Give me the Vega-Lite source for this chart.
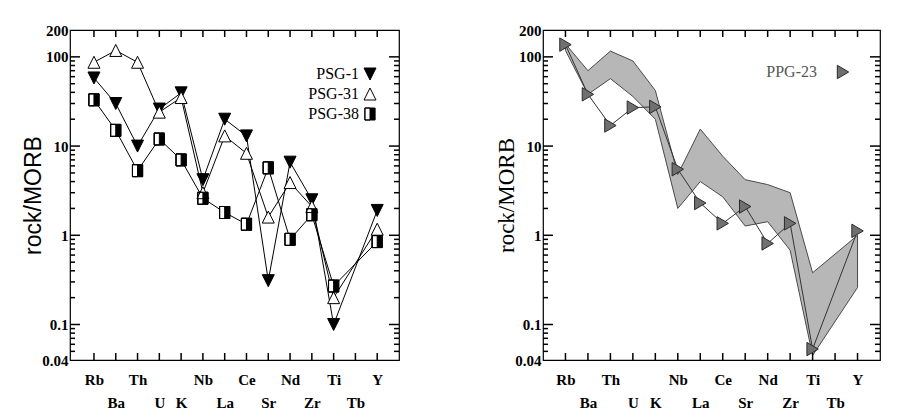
{
  "$schema": "https://vega.github.io/schema/vega-lite/v6.json",
  "background": "white",
  "padding": {"left": 22, "top": 22, "right": 5, "bottom": 5},
  "spacing": 95,
  "datasets": {
    "psg": [
      {"sample": "PSG-1", "el": "Rb", "idx": 0, "v": 58},
      {"sample": "PSG-1", "el": "Ba", "idx": 1, "v": 30},
      {"sample": "PSG-1", "el": "Th", "idx": 2, "v": 10},
      {"sample": "PSG-1", "el": "U", "idx": 3, "v": 26},
      {"sample": "PSG-1", "el": "K", "idx": 4, "v": 39.5},
      {"sample": "PSG-1", "el": "Nb", "idx": 5, "v": 4.2},
      {"sample": "PSG-1", "el": "La", "idx": 6, "v": 20},
      {"sample": "PSG-1", "el": "Ce", "idx": 7, "v": 13},
      {"sample": "PSG-1", "el": "Sr", "idx": 8, "v": 0.31},
      {"sample": "PSG-1", "el": "Nd", "idx": 9, "v": 6.6},
      {"sample": "PSG-1", "el": "Zr", "idx": 10, "v": 2.5},
      {"sample": "PSG-1", "el": "Ti", "idx": 11, "v": 0.1},
      {"sample": "PSG-1", "el": "Y", "idx": 13, "v": 1.9},
      {"sample": "PSG-31", "el": "Rb", "idx": 0, "v": 87},
      {"sample": "PSG-31", "el": "Ba", "idx": 1, "v": 118},
      {"sample": "PSG-31", "el": "Th", "idx": 2, "v": 87},
      {"sample": "PSG-31", "el": "U", "idx": 3, "v": 24},
      {"sample": "PSG-31", "el": "K", "idx": 4, "v": 35},
      {"sample": "PSG-31", "el": "Nb", "idx": 5, "v": 3.0},
      {"sample": "PSG-31", "el": "La", "idx": 6, "v": 13},
      {"sample": "PSG-31", "el": "Ce", "idx": 7, "v": 8.3},
      {"sample": "PSG-31", "el": "Sr", "idx": 8, "v": 1.6},
      {"sample": "PSG-31", "el": "Nd", "idx": 9, "v": 3.9},
      {"sample": "PSG-31", "el": "Zr", "idx": 10, "v": 2.1},
      {"sample": "PSG-31", "el": "Ti", "idx": 11, "v": 0.2},
      {"sample": "PSG-31", "el": "Y", "idx": 13, "v": 1.17},
      {"sample": "PSG-38", "el": "Rb", "idx": 0, "v": 33},
      {"sample": "PSG-38", "el": "Ba", "idx": 1, "v": 15},
      {"sample": "PSG-38", "el": "Th", "idx": 2, "v": 5.3},
      {"sample": "PSG-38", "el": "U", "idx": 3, "v": 12},
      {"sample": "PSG-38", "el": "K", "idx": 4, "v": 7},
      {"sample": "PSG-38", "el": "Nb", "idx": 5, "v": 2.6},
      {"sample": "PSG-38", "el": "La", "idx": 6, "v": 1.8},
      {"sample": "PSG-38", "el": "Ce", "idx": 7, "v": 1.33},
      {"sample": "PSG-38", "el": "Sr", "idx": 8, "v": 5.7},
      {"sample": "PSG-38", "el": "Nd", "idx": 9, "v": 0.9},
      {"sample": "PSG-38", "el": "Zr", "idx": 10, "v": 1.7},
      {"sample": "PSG-38", "el": "Ti", "idx": 11, "v": 0.27},
      {"sample": "PSG-38", "el": "Y", "idx": 13, "v": 0.85}
    ],
    "ppg": [
      {"sample": "PPG-23", "el": "Rb", "idx": 0, "v": 137},
      {"sample": "PPG-23", "el": "Ba", "idx": 1, "v": 38},
      {"sample": "PPG-23", "el": "Th", "idx": 2, "v": 17},
      {"sample": "PPG-23", "el": "U", "idx": 3, "v": 27},
      {"sample": "PPG-23", "el": "K", "idx": 4, "v": 27.5},
      {"sample": "PPG-23", "el": "Nb", "idx": 5, "v": 5.5},
      {"sample": "PPG-23", "el": "La", "idx": 6, "v": 2.3},
      {"sample": "PPG-23", "el": "Ce", "idx": 7, "v": 1.36},
      {"sample": "PPG-23", "el": "Sr", "idx": 8, "v": 2.1},
      {"sample": "PPG-23", "el": "Nd", "idx": 9, "v": 0.81},
      {"sample": "PPG-23", "el": "Zr", "idx": 10, "v": 1.36},
      {"sample": "PPG-23", "el": "Ti", "idx": 11, "v": 0.053},
      {"sample": "PPG-23", "el": "Y", "idx": 13, "v": 1.12}
    ],
    "band": [
      {"el": "Rb", "idx": 0, "lo": 118, "hi": 140},
      {"el": "Ba", "idx": 1, "lo": 38, "hi": 70},
      {"el": "Th", "idx": 2, "lo": 57, "hi": 116},
      {"el": "U", "idx": 3, "lo": 36, "hi": 90},
      {"el": "K", "idx": 4, "lo": 20, "hi": 42},
      {"el": "Nb", "idx": 5, "lo": 2.0, "hi": 4.8},
      {"el": "La", "idx": 6, "lo": 4.0, "hi": 15.5},
      {"el": "Ce", "idx": 7, "lo": 2.7, "hi": 7.7},
      {"el": "Sr", "idx": 8, "lo": 1.27, "hi": 4.2},
      {"el": "Nd", "idx": 9, "lo": 1.42, "hi": 3.7},
      {"el": "Zr", "idx": 10, "lo": 0.68, "hi": 3.0},
      {"el": "Ti", "idx": 11, "lo": 0.045, "hi": 0.38},
      {"el": "Y", "idx": 13, "lo": 0.26, "hi": 1.0}
    ],
    "minorY": [
      {"v": 0.05}, {"v": 0.06}, {"v": 0.07}, {"v": 0.08}, {"v": 0.09},
      {"v": 0.2}, {"v": 0.3}, {"v": 0.4}, {"v": 0.5}, {"v": 0.6}, {"v": 0.7}, {"v": 0.8}, {"v": 0.9},
      {"v": 2}, {"v": 3}, {"v": 4}, {"v": 5}, {"v": 6}, {"v": 7}, {"v": 8}, {"v": 9},
      {"v": 20}, {"v": 30}, {"v": 40}, {"v": 50}, {"v": 60}, {"v": 70}, {"v": 80}, {"v": 90}
    ],
    "majorY": [{"v": 0.1}, {"v": 1}, {"v": 10}, {"v": 100}],
    "xt": [
      {"idx": 0}, {"idx": 1}, {"idx": 2}, {"idx": 3}, {"idx": 4}, {"idx": 5}, {"idx": 6},
      {"idx": 7}, {"idx": 8}, {"idx": 9}, {"idx": 10}, {"idx": 11}, {"idx": 12}, {"idx": 13}
    ]
  },
  "hconcat": [
    {
      "width": 329,
      "height": 330,
      "data": {"name": "psg"},
      "layer": [
        {
          "mark": {"type": "line", "color": "black", "strokeWidth": 1},
          "encoding": {
            "x": {"field": "idx", "type": "quantitative", "scale": {"domain": [-1.1, 14], "nice": false, "zero": false},
              "axis": {"orient": "bottom", "values": [0,1,2,3,4,5,6,7,8,9,10,11,12,13], "title": null,
                "labelExpr": "['Rb','Ba','Th','U','K','Nb','La','Ce','Sr','Nd','Zr','Ti','Tb','Y'][datum.value]",
                "labelPadding": {"condition": {"test": "indexof([1,3,4,6,8,10,12], datum.value) >= 0", "value": 35}, "value": 12},
                "labelOverlap": false, "labelBound": false, "labelFlush": false, "labelBaseline": "top", "labelAlign": "center"}},
            "y": {"field": "v", "type": "quantitative", "scale": {"type": "log", "domain": [0.04, 200], "nice": false},
              "axis": {"orient": "left", "values": [0.04,0.1,1,10,100,200],
                "labelExpr": "datum.value==0.04?'0.04':datum.value==0.1?'0.1':datum.value==1?'1':datum.value==10?'10':datum.value==100?'100':datum.value==200?'200':''",
                "labelPadding": 2, "labelOverlap": false, "labelBound": false, "labelFlush": false,
                "title": "rock/MORB", "titleFont": "Liberation Sans", "titleFontSize": 23, "titleFontWeight": "normal", "titlePadding": -4}},
            "detail": {"field": "sample"},
            "order": {"field": "idx"}
          }
        },
        {"data": {"name": "minorY"}, "mark": {"type": "tick", "orient": "horizontal", "size": 10, "thickness": 1.5, "color": "black", "opacity": 1, "clip": true},
          "encoding": {"y": {"field": "v", "type": "quantitative", "axis": null}, "x": {"datum": -1.1, "type": "quantitative", "axis": null}}},
        {"data": {"name": "minorY"}, "mark": {"type": "tick", "orient": "horizontal", "size": 10, "thickness": 1.5, "color": "black", "opacity": 1, "clip": true},
          "encoding": {"y": {"field": "v", "type": "quantitative", "axis": null}, "x": {"datum": 14, "type": "quantitative", "axis": null}}},
        {"data": {"name": "majorY"}, "mark": {"type": "tick", "orient": "horizontal", "size": 20, "thickness": 1.5, "color": "black", "opacity": 1, "clip": true},
          "encoding": {"y": {"field": "v", "type": "quantitative", "axis": null}, "x": {"datum": -1.1, "type": "quantitative", "axis": null}}},
        {"data": {"name": "majorY"}, "mark": {"type": "tick", "orient": "horizontal", "size": 20, "thickness": 1.5, "color": "black", "opacity": 1, "clip": true},
          "encoding": {"y": {"field": "v", "type": "quantitative", "axis": null}, "x": {"datum": 14, "type": "quantitative", "axis": null}}},
        {"data": {"name": "xt"}, "mark": {"type": "tick", "orient": "vertical", "size": 14, "thickness": 1.5, "color": "black", "opacity": 1, "clip": true},
          "encoding": {"x": {"field": "idx", "type": "quantitative", "axis": null}, "y": {"datum": 0.04, "type": "quantitative", "axis": null}}},
        {"data": {"name": "xt"}, "mark": {"type": "tick", "orient": "vertical", "size": 14, "thickness": 1.5, "color": "black", "opacity": 1, "clip": true},
          "encoding": {"x": {"field": "idx", "type": "quantitative", "axis": null}, "y": {"datum": 200, "type": "quantitative", "axis": null}}},
        {
          "transform": [{"filter": "datum.sample == 'PSG-38'"}],
          "mark": {"type": "point", "filled": true, "fill": "white", "stroke": "black", "strokeWidth": 1, "opacity": 1, "shape": "M-0.85,-1H0.85V1H-0.85Z", "size": 144},
          "encoding": {
            "x": {"field": "idx", "type": "quantitative", "axis": null},
            "y": {"field": "v", "type": "quantitative", "axis": null}
          }
        },
        {
          "mark": {"type": "point", "filled": true, "stroke": "black", "strokeWidth": 1, "opacity": 1, "size": 144},
          "encoding": {
            "x": {"field": "idx", "type": "quantitative", "axis": null},
            "y": {"field": "v", "type": "quantitative", "axis": null},
            "shape": {"field": "sample", "type": "nominal",
              "scale": {"domain": ["PSG-1", "PSG-31", "PSG-38"], "range": ["M-1,-1L1,-1L0,1Z", "M0,-1L1,1L-1,1Z", "M-0.85,-1H0.85V1H-0.85Z M0,-1H-0.85V1H0Z"]},
              "legend": {"orient": "none", "legendX": 292, "legendY": 36, "labelOffset": -19, "labelAlign": "right"}},
            "fill": {"field": "sample", "type": "nominal",
              "scale": {"domain": ["PSG-1", "PSG-31", "PSG-38"], "range": ["black", "white", "black"]},
              "legend": {"orient": "none", "legendX": 292, "legendY": 36, "labelOffset": -19, "labelAlign": "right"}}
          }
        }
      ],
      "resolve": {"axis": {"x": "independent", "y": "independent"}}
    },
    {
      "width": 337,
      "height": 330,
      "layer": [
        {
          "data": {"name": "band"},
          "mark": {"type": "area", "orient": "vertical", "fill": "#b7b7b7", "stroke": "#4a4a4a", "strokeWidth": 1, "opacity": 1},
          "encoding": {
            "x": {"field": "idx", "type": "quantitative", "scale": {"domain": [-1.0, 14], "nice": false, "zero": false},
              "axis": {"orient": "bottom", "values": [0,1,2,3,4,5,6,7,8,9,10,11,12,13], "title": null,
                "labelExpr": "['Rb','Ba','Th','U','K','Nb','La','Ce','Sr','Nd','Zr','Ti','Tb','Y'][datum.value]",
                "labelPadding": {"condition": {"test": "indexof([1,3,4,6,8,10,12], datum.value) >= 0", "value": 35}, "value": 12},
                "labelOverlap": false, "labelBound": false, "labelFlush": false, "labelBaseline": "top", "labelAlign": "center"}},
            "y": {"field": "lo", "type": "quantitative", "scale": {"type": "log", "domain": [0.04, 200], "nice": false},
              "axis": {"orient": "left", "values": [0.04,0.1,1,10,100,200],
                "labelExpr": "datum.value==0.04?'0.04':datum.value==0.1?'0.1':datum.value==1?'1':datum.value==10?'10':datum.value==100?'100':datum.value==200?'200':''",
                "labelPadding": 2, "labelOverlap": false, "labelBound": false, "labelFlush": false,
                "title": "rock/MORB", "titleFont": "Liberation Serif", "titleFontSize": 23, "titleFontWeight": "normal", "titlePadding": -4}},
            "y2": {"field": "hi"}
          }
        },
        {"data": {"name": "minorY"}, "mark": {"type": "tick", "orient": "horizontal", "size": 10, "thickness": 1.5, "color": "black", "opacity": 1, "clip": true},
          "encoding": {"y": {"field": "v", "type": "quantitative", "axis": null}, "x": {"datum": -1.0, "type": "quantitative", "axis": null}}},
        {"data": {"name": "minorY"}, "mark": {"type": "tick", "orient": "horizontal", "size": 10, "thickness": 1.5, "color": "black", "opacity": 1, "clip": true},
          "encoding": {"y": {"field": "v", "type": "quantitative", "axis": null}, "x": {"datum": 14, "type": "quantitative", "axis": null}}},
        {"data": {"name": "majorY"}, "mark": {"type": "tick", "orient": "horizontal", "size": 20, "thickness": 1.5, "color": "black", "opacity": 1, "clip": true},
          "encoding": {"y": {"field": "v", "type": "quantitative", "axis": null}, "x": {"datum": -1.0, "type": "quantitative", "axis": null}}},
        {"data": {"name": "majorY"}, "mark": {"type": "tick", "orient": "horizontal", "size": 20, "thickness": 1.5, "color": "black", "opacity": 1, "clip": true},
          "encoding": {"y": {"field": "v", "type": "quantitative", "axis": null}, "x": {"datum": 14, "type": "quantitative", "axis": null}}},
        {"data": {"name": "xt"}, "mark": {"type": "tick", "orient": "vertical", "size": 14, "thickness": 1.5, "color": "black", "opacity": 1, "clip": true},
          "encoding": {"x": {"field": "idx", "type": "quantitative", "axis": null}, "y": {"datum": 0.04, "type": "quantitative", "axis": null}}},
        {"data": {"name": "xt"}, "mark": {"type": "tick", "orient": "vertical", "size": 14, "thickness": 1.5, "color": "black", "opacity": 1, "clip": true},
          "encoding": {"x": {"field": "idx", "type": "quantitative", "axis": null}, "y": {"datum": 200, "type": "quantitative", "axis": null}}},
        {
          "data": {"name": "ppg"},
          "mark": {"type": "line", "color": "#333333", "strokeWidth": 1},
          "encoding": {
            "x": {"field": "idx", "type": "quantitative", "axis": null},
            "y": {"field": "v", "type": "quantitative", "axis": null},
            "order": {"field": "idx"}
          }
        },
        {
          "data": {"name": "ppg"},
          "mark": {"type": "point", "filled": true, "stroke": "#2a2a2a", "strokeWidth": 1, "opacity": 1, "size": 180},
          "encoding": {
            "x": {"field": "idx", "type": "quantitative", "axis": null},
            "y": {"field": "v", "type": "quantitative", "axis": null},
            "shape": {"field": "sample", "type": "nominal",
              "scale": {"domain": ["PPG-23"], "range": ["M-0.85,-1L0.85,0L-0.85,1Z"]},
              "legend": {"orient": "none", "legendX": 292, "legendY": 34, "labelOffset": -34, "labelAlign": "right", "labelColor": "#555555", "symbolSize": 180}},
            "fill": {"field": "sample", "type": "nominal",
              "scale": {"domain": ["PPG-23"], "range": ["#707070"]},
              "legend": {"orient": "none", "legendX": 292, "legendY": 34, "labelOffset": -34, "labelAlign": "right", "labelColor": "#555555", "symbolSize": 180}}
          }
        }
      ],
      "resolve": {"axis": {"x": "independent", "y": "independent"}}
    }
  ],
  "resolve": {"scale": {"shape": "independent", "fill": "independent"}, "legend": {"shape": "independent", "fill": "independent"}},
  "config": {
    "view": {"stroke": "black", "strokeWidth": 1.2},
    "axis": {"domain": false, "grid": false, "ticks": false, "labelFont": "Liberation Serif", "labelFontWeight": "bold", "labelFontSize": 15, "labelColor": "black", "titleColor": "black"},
    "legend": {"title": null, "padding": 0, "labelFont": "Liberation Serif", "labelFontSize": 16, "labelFontWeight": "normal", "labelColor": "black", "symbolSize": 144, "symbolStrokeWidth": 1, "rowPadding": 4}
  }
}
